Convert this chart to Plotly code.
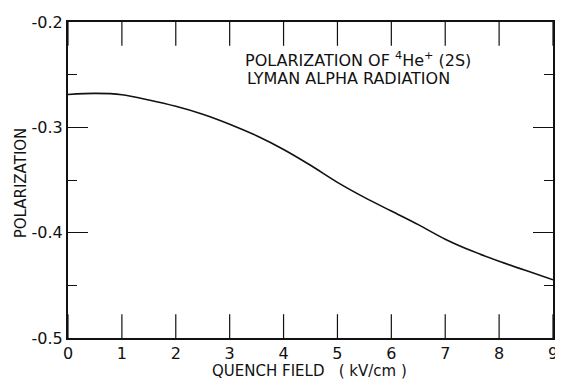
import plotly.graph_objects as go

field_kv_cm = [0, 0.5, 1, 1.5, 2, 2.5, 3, 3.5, 4, 4.5, 5, 5.5, 6, 6.5, 7, 7.5, 8, 8.5, 9]
polarization = [-0.2688, -0.2678, -0.2690, -0.2740, -0.2800, -0.2875, -0.2970, -0.3080,
                -0.3210, -0.3360, -0.3522, -0.3665, -0.3795, -0.3924, -0.4062, -0.4175,
                -0.4271, -0.4360, -0.4447]

x_ticks = [0, 1, 2, 3, 4, 5, 6, 7, 8, 9]
y_ticks = [-0.5, -0.4, -0.3, -0.2]
y_tick_labels = ["-0.5", "-0.4", "-0.3", "-0.2"]
x_range = [0, 9]
y_range = [-0.5, -0.2]

FONT = "DejaVu Sans"
INK = "#111111"

fig = go.Figure()
fig.add_trace(go.Scatter(x=field_kv_cm, y=polarization, mode="lines",
                         line=dict(color=INK, width=1.6, shape="spline", smoothing=0.8),
                         showlegend=False, hoverinfo="skip"))

# x tick marks on bottom and top frame edges (half of each marker is clipped by the frame)
for edge in y_range:
    fig.add_trace(go.Scatter(x=x_ticks, y=[edge] * len(x_ticks), mode="markers",
                             marker=dict(symbol="line-ns", size=34, color=INK,
                                         line=dict(width=1.2, color=INK)),
                             cliponaxis=True, showlegend=False, hoverinfo="skip"))

fig.update_xaxes(range=x_range, tickvals=x_ticks, ticktext=[str(v) for v in x_ticks],
                 ticks="", showline=True, linecolor=INK, linewidth=2, mirror=True,
                 showgrid=False, zeroline=False, ticklabeloverflow="allow",
                 tickfont=dict(family=FONT, size=16, color=INK))
fig.update_yaxes(range=y_range, tickvals=y_ticks, ticktext=y_tick_labels,
                 ticks="inside", ticklen=20, tickwidth=1, tickcolor=INK,
                 minor=dict(tickvals=[-0.45, -0.35, -0.25], ticks="inside", ticklen=9,
                            tickwidth=1, tickcolor=INK, showgrid=False),
                 showline=True, linecolor=INK, linewidth=2, mirror="ticks",
                 showgrid=False, zeroline=False, ticklabeloverflow="allow",
                 tickfont=dict(family=FONT, size=16, color=INK))

annos = [
    dict(text="POLARIZATION OF <sup>4</sup>He<sup>+</sup> (2S)", x=0.361, y=0.88,
         xanchor="left", yanchor="middle", size=16),
    dict(text="LYMAN ALPHA RADIATION", x=0.365, y=0.821, xanchor="left", yanchor="middle", size=16),
    dict(text="QUENCH FIELD &nbsp;&nbsp;( kV/cm )", x=0.498, y=-0.105, xanchor="center",
         yanchor="middle", size=15),
]
for a in annos:
    fig.add_annotation(text=a["text"], x=a["x"], y=a["y"], xref="paper", yref="paper",
                       xanchor=a["xanchor"], yanchor=a["yanchor"], showarrow=False,
                       font=dict(family=FONT, size=a["size"], color=INK))
fig.add_annotation(text="POLARIZATION", x=-0.098, y=0.491, xref="paper", yref="paper",
                   textangle=-90, showarrow=False, xanchor="center", yanchor="middle",
                   font=dict(family=FONT, size=15, color=INK))

# page body adds an 8px offset, so the figure is sized to fit the 563x381 window
fig.update_layout(width=555, height=373, margin=dict(l=60, r=5, t=6, b=43),
                  plot_bgcolor="white", paper_bgcolor="white")

fig.write_html("out.html")
